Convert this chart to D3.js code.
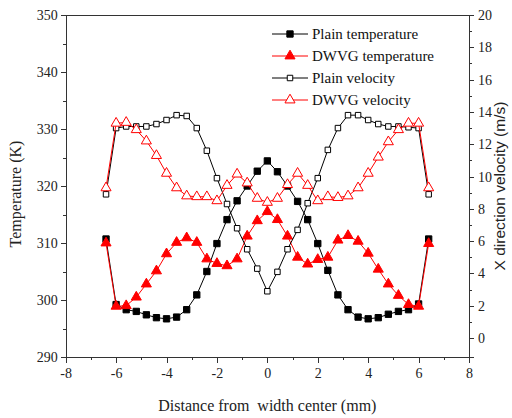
<!DOCTYPE html>
<html lang="en">
<head>
	<meta charset="UTF-8">
	<title>Temperature and velocity</title>
<script src="https://d3js.org/d3.v7.min.js"></script>
<style>
body,html{
	margin: 0;
	padding: 0;
	background: white;
}
text{
	font-family: "Liberation Serif", "Times New Roman", serif;
	fill: #222;
}
.axis path,
.axis line{
	stroke: #333;
	stroke-width: 1px;
	shape-rendering: crispEdges;
}
.axis text{
	font-size: 14px;
}
.legend text{
	font-size: 15px;
	fill: #111;
}
</style>
</head>
<body>
<script>
// positions across the width (mm)
var positions = [-6.4,-6.0,-5.6,-5.2,-4.8,-4.4,-4.0,-3.6,-3.2,-2.8,-2.4,-2.0,-1.6,-1.2,-0.8,-0.4,0,
	0.4,0.8,1.2,1.6,2.0,2.4,2.8,3.2,3.6,4.0,4.4,4.8,5.2,5.6,6.0,6.4];

var plainTemp = [310.7,299.2,298.3,298.0,297.4,296.9,296.7,297.0,298.3,300.9,305.0,309.9,314.1,317.4,320.0,322.6,324.4,
	322.5,320.0,317.3,314.1,309.9,305.2,300.9,298.3,297.0,296.7,296.9,297.5,298.0,298.3,299.3,310.7];

var dwvgTemp = [310.0,298.9,299.0,300.5,302.8,305.1,308.1,310.1,310.9,310.1,307.2,306.4,306.0,307.2,311.2,313.9,315.5,
	314.1,311.2,307.5,306.3,307.1,307.5,310.5,311.3,310.3,308.2,305.4,302.8,300.8,299.2,298.9,309.9];

var plainVel = [8.9,13.0,13.1,13.1,13.1,13.25,13.5,13.8,13.75,13.0,11.6,9.9,8.3,6.8,5.5,4.3,2.9,
	4.1,5.5,6.7,8.35,9.9,11.65,13.0,13.8,13.8,13.5,13.25,13.1,13.1,13.05,13.0,8.9];

var dwvgVel = [9.3,13.3,13.35,12.9,12.2,11.3,10.2,9.3,8.8,8.75,8.75,8.5,9.45,10.15,9.6,8.65,8.4,
	8.65,9.5,10.2,9.45,8.5,8.75,8.7,8.8,9.3,10.2,11.2,12.15,12.9,13.3,13.3,9.3];

var seriesNames = ["Plain temperature", "DWVG temperature", "Plain velocity", "DWVG velocity"];

var xTicks = [-8,-6,-4,-2,0,2,4,6,8];
var tempTicks = [290,300,310,320,330,340,350];
var velTicks = [0,2,4,6,8,10,12,14,16,18,20];

var w = 512;
var h = 418;
var margin = {left: 65.7, right: 43, top: 15, bottom: 61};
var width = w - margin.left - margin.right;
var height = h - margin.top - margin.bottom;

var svg = d3.select("body").append("svg")
	.attr("width", w)
	.attr("height", h);

var chart = svg.append("g")
	.attr("transform", "translate(" + margin.left + "," + margin.top + ")");

var x = d3.scaleLinear().domain([-8, 8]).range([0, width]);
var yT = d3.scaleLinear().domain([290, 350]).range([height, 0]);
var yV = d3.scaleLinear().domain([-1.17, 20]).range([height, 0]);

// minor ticks first, then major axes on top
function minor(axis, scale, values, size){
	return axis(scale).tickValues(values).tickSize(size).tickFormat("");
}

chart.append("g").attr("class", "axis")
	.attr("transform", "translate(0," + height + ")")
	.call(minor(d3.axisBottom, x, [-7,-5,-3,-1,1,3,5,7], 3));
chart.append("g").attr("class", "axis")
	.call(minor(d3.axisLeft, yT, [295,305,315,325,335,345], 3));
chart.append("g").attr("class", "axis")
	.attr("transform", "translate(" + width + ",0)")
	.call(minor(d3.axisRight, yV, [1,3,5,7,9,11,13,15,17,19], 3));

chart.append("g").attr("class", "axis")
	.attr("transform", "translate(0," + height + ")")
	.call(d3.axisBottom(x).tickValues(xTicks).tickSize(6).tickPadding(5).tickFormat(d3.format("d")));

chart.append("g").attr("class", "axis")
	.call(d3.axisLeft(yT).tickValues(tempTicks).tickSize(5).tickPadding(3));

chart.append("g").attr("class", "axis")
	.attr("transform", "translate(" + width + ",0)")
	.call(d3.axisRight(yV).tickValues(velTicks).tickSize(5).tickPadding(4));

// top frame line
chart.append("line")
	.attr("x1", 0).attr("x2", width)
	.attr("y1", 0).attr("y2", 0)
	.style("stroke", "#333")
	.style("shape-rendering", "crispEdges");

chart.selectAll(".axis").attr("font-family", null).attr("font-size", null);
chart.selectAll(".axis text")
	.style("font-family", "'Liberation Serif', 'Times New Roman', serif")
	.style("fill", "#222")
	.text(function(){
		return this.textContent.replace("\u2212", "-");
	});

// axis titles
svg.append("text")
	.attr("transform", "translate(21," + (margin.top + height/2 + 8) + ") rotate(-90)")
	.style("text-anchor", "middle")
	.style("font-size", "16px")
	.text("Temperature (K)");

svg.append("text")
	.attr("transform", "translate(505," + (margin.top + height/2) + ") rotate(-90)")
	.style("text-anchor", "middle")
	.style("font-size", "15.5px")
	.style("font-family", "'Liberation Sans', Arial, sans-serif")
	.text("X direction velocity (m/s)");

svg.append("text")
	.attr("x", margin.left + width/2)
	.attr("y", 411)
	.style("text-anchor", "middle")
	.style("font-size", "16px")
	.style("white-space", "pre")
	.text("Distance from  width center (mm)");

var series = [
	{name: seriesNames[0], values: plainTemp, y: yT, color: "#000", shape: d3.symbolSquare, size: 40, fill: "#000"},
	{name: seriesNames[1], values: dwvgTemp, y: yT, color: "#ff0000", shape: d3.symbolTriangle, size: 44, fill: "#ff0000"},
	{name: seriesNames[2], values: plainVel, y: yV, color: "#000", shape: d3.symbolSquare, size: 30, fill: "#fff"},
	{name: seriesNames[3], values: dwvgVel, y: yV, color: "#ff0000", shape: d3.symbolTriangle, size: 44, fill: "#fff"}
];

series.forEach(function(s){
	var line = d3.line()
		.x(function(d, i){ return x(positions[i]); })
		.y(function(d){ return s.y(d); });

	chart.append("path")
		.datum(s.values)
		.attr("d", line)
		.style("fill", "none")
		.style("stroke", s.color)
		.style("stroke-width", 1);

	chart.selectAll(".pt" + s.name.replace(/ /g, ""))
		.data(s.values)
		.enter()
			.append("path")
			.attr("d", d3.symbol().type(s.shape).size(s.size))
			.attr("transform", function(d, i){
				return "translate(" + x(positions[i]) + "," + s.y(d) + ")";
			})
			.style("fill", s.fill)
			.style("stroke", s.color)
			.style("stroke-width", 1);
});

// legend
var legend = svg.append("g").attr("class", "legend")
	.attr("transform", "translate(272,34)");

series.forEach(function(s, i){
	var row = legend.append("g").attr("transform", "translate(0," + (i * 22) + ")");
	row.append("line")
		.attr("x1", 0).attr("x2", 36)
		.style("stroke", s.color)
		.style("stroke-width", 1);
	row.append("path")
		.attr("d", d3.symbol().type(s.shape).size(s.size))
		.attr("transform", "translate(18,0)")
		.style("fill", s.fill)
		.style("stroke", s.color);
	row.append("text")
		.attr("x", 40)
		.attr("y", 5)
		.text(s.name);
});
</script>
</body>
</html>
